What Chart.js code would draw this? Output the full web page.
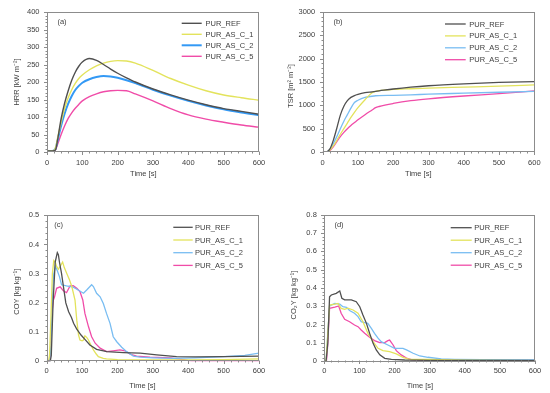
<!DOCTYPE html>
<html>
<head>
<meta charset="utf-8">
<script src="https://cdn.jsdelivr.net/npm/chart.js@4.4.1/dist/chart.umd.min.js"></script>
<style>
  html, body { margin: 0; padding: 0; background: #ffffff; }
  #wrap { position: relative; width: 550px; height: 393px; overflow: hidden; }
  canvas { position: absolute; }
</style>
</head>
<body>
<div id="wrap">
  <canvas id="ca" width="275" height="190" style="left:0;top:0"></canvas>
  <canvas id="cb" width="275" height="190" style="left:275px;top:0"></canvas>
  <canvas id="cc" width="275" height="203" style="left:0;top:190px"></canvas>
  <canvas id="cd" width="275" height="203" style="left:275px;top:190px"></canvas>
</div>
<script>
// ---------- DATA ----------
const seriesNames = ['PUR_REF', 'PUR_AS_C_1', 'PUR_AS_C_2', 'PUR_AS_C_5'];

// (a) HRR [kW m-2]
const hrrTime = [0,10,20,25,30,40,50,60,70,80,90,100,120,140,160,180,200,225,250,300,350,400,450,500,550,600];
const hrrRef  = [3,3,4,8,35,95,140,175,205,228,245,257,267,262,250,237,225,212,200,180,163,148,135,124,116,108];
const hrrC1   = [3,3,5,15,40,85,125,155,178,196,210,220,235,246,254,259,261,260,254,233,210,191,175,163,155,148];
const hrrC2   = [3,3,5,12,33,75,110,138,160,177,189,198,208,214,217,216,212,205,197,178,161,146,133,122,113,105];
const hrrC5   = [2,2,3,8,22,50,75,96,112,125,136,146,158,166,172,175,176,175,166,146,124,106,94,85,77,71];

// (b) TSR [m2 m-2]
const tsrTime = [0,10,20,30,40,50,60,70,80,90,100,120,140,150,160,200,250,300,400,500,600];
const tsrRef  = [0,0,60,250,510,790,980,1100,1170,1210,1235,1270,1290,1300,1310,1350,1390,1420,1460,1490,1510];
const tsrC1   = [0,0,40,130,250,380,500,620,740,850,950,1120,1270,1300,1315,1340,1355,1370,1390,1410,1440];
const tsrC2   = [0,0,50,180,330,500,660,800,940,1060,1110,1170,1195,1205,1210,1215,1225,1240,1260,1280,1300];
const tsrC5   = [0,0,30,110,220,330,420,500,570,630,690,800,900,950,975,1040,1100,1140,1200,1250,1310];

// (c) COY [kg kg-1]
const coyRefT = [0,10,13,18,24,30,33,36,42,48,54,62,70,76,85,97,108,122,141,170,217,264,311,367,420,500,600];
const coyRef  = [0,0,0.02,0.2,0.34,0.372,0.365,0.34,0.3,0.25,0.2,0.17,0.15,0.13,0.11,0.09,0.075,0.056,0.041,0.033,0.03,0.028,0.022,0.016,0.015,0.016,0.018];
const coyC1T  = [0,5,8,12,16,20,24,28,33,38,45,50,57,64,71,80,85,90,94,100,104,108,113,118,125,132,140,146,160,169,200,300,400,500,600];
const coyC1   = [0,0,0.02,0.15,0.3,0.345,0.34,0.325,0.315,0.325,0.34,0.32,0.3,0.28,0.256,0.21,0.141,0.09,0.073,0.07,0.073,0.087,0.082,0.073,0.055,0.039,0.025,0.016,0.01,0.008,0.006,0.005,0.005,0.006,0.008];
const coyC2T  = [0,8,12,16,20,25,30,36,42,56,75,89,104,113,127,132,141,151,160,169,179,188,198,212,226,245,264,300,358,420,500,560,600];
const coyC2   = [0,0,0.05,0.22,0.3,0.325,0.31,0.29,0.262,0.258,0.254,0.244,0.233,0.244,0.262,0.256,0.233,0.221,0.198,0.164,0.13,0.084,0.067,0.048,0.033,0.018,0.014,0.012,0.01,0.012,0.016,0.02,0.028];
const coyC5T  = [0,8,12,15,19,22,28,38,47,56,66,75,85,94,102,108,118,127,137,151,169,188,207,221,235,254,292,350,390,410,600];
const coyC5   = [0,0,0.05,0.17,0.21,0.22,0.25,0.255,0.242,0.235,0.258,0.259,0.25,0.239,0.21,0.164,0.119,0.084,0.062,0.045,0.033,0.036,0.039,0.036,0.025,0.018,0.014,0.012,0.005,0,0];

// (d) CO2Y [kg kg-1]
const co2RefT = [0,5,10,15,20,34,44,50,58,77,91,101,110,120,129,139,148,158,172,191,229,300,400,600];
const co2Ref  = [0,0,0.1,0.352,0.362,0.371,0.384,0.344,0.335,0.335,0.325,0.298,0.253,0.207,0.153,0.098,0.062,0.035,0.016,0.011,0.007,0.005,0.005,0.005];
const co2C1T  = [0,5,10,15,30,39,48,58,67,82,96,110,124,139,153,167,186,205,224,243,300,400,600];
const co2C1   = [0,0,0.15,0.307,0.312,0.316,0.289,0.284,0.29,0.28,0.262,0.216,0.153,0.107,0.071,0.058,0.053,0.04,0.022,0.011,0.01,0.006,0.004];
const co2C2T  = [0,5,10,15,30,44,53,63,72,86,96,105,115,124,134,143,153,162,181,200,224,234,253,272,295,333,371,450,600];
const co2C2   = [0,0,0.15,0.302,0.316,0.312,0.298,0.295,0.277,0.262,0.244,0.216,0.211,0.207,0.18,0.153,0.126,0.107,0.089,0.071,0.071,0.062,0.044,0.029,0.022,0.013,0.011,0.009,0.008];
const co2C5T  = [0,6,9,15,30,41,48,58,72,86,96,105,115,129,143,158,172,181,186,196,205,219,234,248,300,600];
const co2C5   = [0,0,0.07,0.289,0.295,0.302,0.262,0.229,0.216,0.198,0.189,0.171,0.153,0.131,0.113,0.102,0.102,0.113,0.116,0.089,0.058,0.035,0.018,0.009,0.004,0.004];

// ---------- STYLE ----------
const FONT = "'Liberation Sans', Arial, sans-serif";
const TXT = '#404040';
const C_REF = '#505050', C_1 = '#e3e35c', C_5 = '#f04ca8';

const decor = {
  id: 'decor',
  afterDatasetsDraw(chart, args, o) {
    const ctx = chart.ctx, a = chart.chartArea, xs = chart.scales.x, ys = chart.scales.y;
    ctx.save();
    // frame
    ctx.strokeStyle = '#8c8c8c'; ctx.lineWidth = 1;
    ctx.strokeRect(Math.round(a.left) + 0.5, Math.round(a.top) + 0.5,
                   Math.round(a.right - a.left) - 1, Math.round(a.bottom - a.top) - 1);
    // tick marks (outward)
    ctx.beginPath();
    const nx = Math.round((xs.max - xs.min) / o.xMinor);
    const perX = Math.round(o.xMajor / o.xMinor);
    const yb = Math.round(a.bottom) - 0.5;
    for (let i = 0; i <= nx; i++) {
      const px = Math.round(xs.getPixelForValue(xs.min + i * o.xMinor)) + 0.5;
      ctx.moveTo(px, yb); ctx.lineTo(px, yb + (i % perX === 0 ? 3.5 : 2));
    }
    const ny = Math.round((ys.max - ys.min) / o.yMinor);
    const perY = Math.round(o.yMajor / o.yMinor);
    const xl = Math.round(a.left) + 0.5;
    for (let i = 0; i <= ny; i++) {
      const py = Math.round(ys.getPixelForValue(ys.min + i * o.yMinor)) + 0.5;
      ctx.moveTo(xl, py); ctx.lineTo(xl - (i % perY === 0 ? 3.5 : 2), py);
    }
    ctx.stroke();
    // panel tag
    ctx.fillStyle = TXT;
    ctx.font = '7.5px ' + FONT;
    ctx.textAlign = 'center'; ctx.textBaseline = 'middle';
    ctx.fillText(o.tag, o.tagX, o.tagY);
    // legend
    chart.data.datasets.forEach((ds, i) => {
      const y = o.legY + i * o.legDy;
      ctx.strokeStyle = ds.borderColor; ctx.lineWidth = ds.borderWidth;
      ctx.beginPath(); ctx.moveTo(o.legX1, y); ctx.lineTo(o.legX2, y); ctx.stroke();
      ctx.textAlign = 'left';
      ctx.fillText(ds.label, o.legTX, y + 0.5);
    });
    // axis titles
    ctx.font = '7.5px ' + FONT;
    ctx.textAlign = 'center';
    ctx.fillText(o.xTitle, o.xtX, o.xtY);
    ctx.translate(o.ytX, o.ytY); ctx.rotate(-Math.PI / 2);
    ctx.fillText(o.yTitle, 0, 0);
    ctx.restore();
  }
};

function makeSeries(times, values, colors, widths) {
  return values.map((v, k) => ({
    label: seriesNames[k],
    data: times[k].map((t, i) => ({ x: t, y: v[i] })),
    borderColor: colors[k],
    borderWidth: widths[k],
    pointRadius: 0,
    fill: false
  }));
}

function makeChart(id, W, H, area, series, smooth, y, d) {
  series.forEach(s => { if (smooth) { s.cubicInterpolationMode = 'monotone'; } else { s.tension = 0; } });
  return new Chart(document.getElementById(id), {
    type: 'line',
    data: { datasets: series },
    options: {
      responsive: false, animation: false, devicePixelRatio: 1,
      layout: { padding: { left: 0, top: area.top, right: W - area.right, bottom: 0 } },
      plugins: { legend: { display: false }, tooltip: { enabled: false }, decor: d },
      scales: {
        x: {
          type: 'linear', min: 0, max: 600,
          ticks: { stepSize: 100, padding: d.xPad, color: TXT, font: { family: FONT, size: 7.5 },
                   maxRotation: 0, callback: v => String(v) },
          grid: { display: false, drawTicks: false, tickLength: 0 }, border: { display: false },
          afterFit(s) { s.height = H - area.bottom; }
        },
        y: {
          type: 'linear', min: y.min, max: y.max,
          ticks: { stepSize: y.step, padding: 7.5, color: TXT, font: { family: FONT, size: 7.5 },
                   callback: v => String(+v.toFixed(3)) },
          grid: { display: false, drawTicks: false, tickLength: 0 }, border: { display: false },
          afterFit(s) { s.width = area.left; }
        }
      }
    },
    plugins: [decor]
  });
}

// (a)
makeChart('ca', 275, 190, { left: 47, right: 259, top: 12, bottom: 152 },
  makeSeries([hrrTime, hrrTime, hrrTime, hrrTime], [hrrRef, hrrC1, hrrC2, hrrC5],
             [C_REF, C_1, '#3399f5', C_5], [1.4, 1.4, 2, 1.4]),
  true, { min: 0, max: 400, step: 50 },
  { tag: '(a)', tagX: 62, tagY: 21.7, legX1: 181.7, legX2: 201.7, legTX: 205.5, legY: 23.3, legDy: 11,
    xTitle: 'Time [s]', xtX: 143.3, xtY: 174, yTitle: 'HRR [kW m\u207B\u00B2]', ytX: 17, ytY: 82,
    xMajor: 100, xMinor: 20, yMajor: 50, yMinor: 10, xPad: 6 });

// (b)
makeChart('cb', 275, 190, { left: 47.7, right: 259.3, top: 12, bottom: 152 },
  makeSeries([tsrTime, tsrTime, tsrTime, tsrTime], [tsrRef, tsrC1, tsrC2, tsrC5],
             [C_REF, C_1, '#79bdf2', C_5], [1.3, 1.3, 1.3, 1.3]),
  true, { min: 0, max: 3000, step: 500 },
  { tag: '(b)', tagX: 63, tagY: 21.7, legX1: 170, legX2: 190.7, legTX: 194.3, legY: 24, legDy: 11.9,
    xTitle: 'Time [s]', xtX: 143.3, xtY: 174, yTitle: 'TSR [m\u00B2 m\u207B\u00B2]', ytX: 15.7, ytY: 86,
    xMajor: 100, xMinor: 20, yMajor: 500, yMinor: 100, xPad: 6 });

// (c)
makeChart('cc', 275, 203, { left: 46.7, right: 259, top: 25.3, bottom: 171.3 },
  makeSeries([coyRefT, coyC1T, coyC2T, coyC5T], [coyRef, coyC1, coyC2, coyC5],
             [C_REF, C_1, '#79bdf2', C_5], [1.3, 1.3, 1.3, 1.3]),
  false, { min: 0, max: 0.5, step: 0.1 },
  { tag: '(c)', tagX: 58.5, tagY: 34.7, legX1: 173.3, legX2: 192.7, legTX: 195, legY: 37.3, legDy: 12.7,
    xTitle: 'Time [s]', xtX: 142.5, xtY: 195.7, yTitle: 'COY [kg kg\u207B\u00B9]', ytX: 17.3, ytY: 101.7,
    xMajor: 100, xMinor: 20, yMajor: 0.1, yMinor: 0.02, xPad: 5.5 });

// (d)
makeChart('cd', 275, 203, { left: 49.3, right: 260, top: 24.7, bottom: 171.3 },
  makeSeries([co2RefT, co2C1T, co2C2T, co2C5T], [co2Ref, co2C1, co2C2, co2C5],
             [C_REF, C_1, '#79bdf2', C_5], [1.3, 1.3, 1.3, 1.3]),
  false, { min: 0, max: 0.8, step: 0.1 },
  { tag: '(d)', tagX: 64, tagY: 35, legX1: 175.7, legX2: 196.7, legTX: 199.3, legY: 37.7, legDy: 12.5,
    xTitle: 'Time [s]', xtX: 145, xtY: 196, yTitle: 'CO\u2082Y [kg kg\u207B\u00B9]', ytX: 19.3, ytY: 105,
    xMajor: 100, xMinor: 20, yMajor: 0.1, yMinor: 0.02, xPad: 5.5 });
</script>
</body>
</html>
